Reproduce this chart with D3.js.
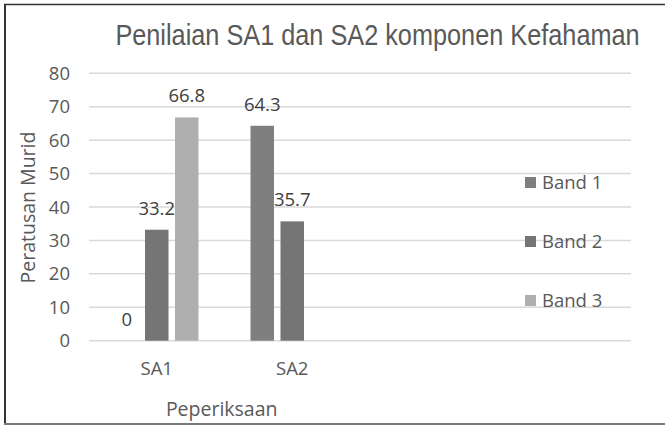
<html>
<script src="https://d3js.org/d3.v7.min.js"></script>
<style>
  body { margin: 0; background: #fff; }
  text { font-family: "Open Sans", sans-serif; }
</style>
<body>
<div id="chart"></div>
<script>
// data
var categories = ["SA1", "SA2"];
var seriesNames = ["Band 1", "Band 2", "Band 3"];
var band1 = [0, 64.3];
var band2 = [33.2, 35.7];
var band3 = [66.8, null];
var yTicks = [0, 10, 20, 30, 40, 50, 60, 70, 80];

var seriesValues = [band1, band2, band3];
var colors = ["#7f7f7f", "#757575", "#afafaf"];

var width = 665, height = 425;
var plotLeft = 89, plotRight = 631, plotTop = 73.3, plotBottom = 340.7;
var slot = (plotRight - plotLeft) / 4; // chart has room for 4 categories

var svg = d3.select("#chart").append("svg")
  .attr("width", width)
  .attr("height", height);

// frame
svg.append("line").attr("x1", 4).attr("x2", width).attr("y1", 4.6).attr("y2", 4.6)
  .attr("stroke", "#333").attr("stroke-width", 1.5);
svg.append("line").attr("x1", 5).attr("x2", 5).attr("y1", 4).attr("y2", height)
  .attr("stroke", "#333").attr("stroke-width", 2);
svg.append("line").attr("x1", 4).attr("x2", width).attr("y1", 424).attr("y2", 424)
  .attr("stroke", "#7a7a7a").attr("stroke-width", 2);

var y = d3.scaleLinear().domain([0, 80]).range([plotBottom, plotTop]);

var x0 = d3.scaleBand()
  .domain(categories)
  .range([plotLeft, plotLeft + slot * categories.length]);

var x1 = d3.scaleBand()
  .domain(seriesNames)
  .range([0, x0.bandwidth()])
  .paddingInner(0.2167)
  .paddingOuter(0.8667);

// gridlines
svg.append("g").selectAll("line")
  .data(yTicks)
  .enter().append("line")
  .attr("x1", plotLeft).attr("x2", plotRight)
  .attr("y1", function(d) { return y(d); })
  .attr("y2", function(d) { return y(d); })
  .attr("stroke", "#d9d9d9")
  .attr("stroke-width", 1.5);

// y tick labels
svg.append("g").selectAll("text")
  .data(yTicks)
  .enter().append("text")
  .attr("x", 70)
  .attr("y", function(d) { return y(d) + 6.6; })
  .attr("text-anchor", "end")
  .attr("font-size", 18.5)
  .attr("fill", "#595959")
  .text(function(d) { return d; });

// bars and labels
seriesNames.forEach(function(name, si) {
  var vals = seriesValues[si];
  var g = svg.append("g");
  categories.forEach(function(cat, ci) {
    var v = vals[ci];
    if (v === null) return;
    var bx = x0(cat) + x1(name);
    g.append("rect")
      .attr("x", bx)
      .attr("y", y(v))
      .attr("width", x1.bandwidth())
      .attr("height", y(0) - y(v))
      .attr("fill", colors[si]);
    g.append("text")
      .attr("x", bx + x1.bandwidth() / 2)
      .attr("y", y(v) - 15)
      .attr("text-anchor", "middle")
      .attr("font-size", 18.5)
      .attr("fill", "#404040")
      .text(v);
  });
});

// category labels
svg.append("g").selectAll("text")
  .data(categories)
  .enter().append("text")
  .attr("x", function(d) { return x0(d) + x0.bandwidth() / 2; })
  .attr("y", 375)
  .attr("text-anchor", "middle")
  .attr("font-size", 18.5)
  .attr("fill", "#595959")
  .text(function(d) { return d; });

// title
svg.append("text")
  .attr("transform", "translate(377.5,44.6) scale(0.843,1)")
  .attr("text-anchor", "middle")
  .style("font-family", "'Liberation Sans', Arial, sans-serif")
  .attr("font-size", 30)
  .attr("fill", "#595959")
  .text("Penilaian SA1 dan SA2 komponen Kefahaman");

// axis titles
svg.append("text")
  .attr("transform", "translate(35,207.5) rotate(-90)")
  .attr("text-anchor", "middle")
  .attr("font-size", 19.5)
  .attr("fill", "#595959")
  .text("Peratusan Murid");

svg.append("text")
  .attr("x", 221.7)
  .attr("y", 416)
  .attr("text-anchor", "middle")
  .attr("font-size", 19.5)
  .attr("fill", "#595959")
  .text("Peperiksaan");

// legend
var legend = svg.append("g").selectAll("g")
  .data(seriesNames)
  .enter().append("g")
  .attr("transform", function(d, i) { return "translate(525," + (177 + i * 59) + ")"; });

legend.append("rect")
  .attr("width", 11).attr("height", 11)
  .attr("fill", function(d, i) { return colors[i]; });

legend.append("text")
  .attr("x", 17)
  .attr("y", 12)
  .attr("font-size", 18.5)
  .attr("fill", "#595959")
  .text(function(d) { return d; });
</script>
</body>
</html>
